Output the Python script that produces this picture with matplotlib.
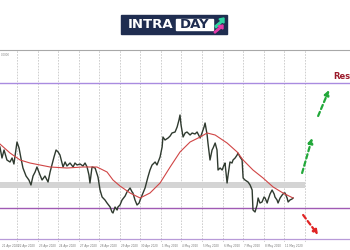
import matplotlib
matplotlib.use("Agg")
import matplotlib.pyplot as plt
from matplotlib.patches import Rectangle, Polygon

# price trace (x in days, grid lines at whole days)
price_day = [-0.83, -0.73, -0.63, -0.49, -0.34, -0.24, -0.15, 0.00, 0.10, 0.19,
             0.29, 0.44, 0.58, 0.68, 0.78, 0.88, 0.97, 1.12, 1.22, 1.36,
             1.51, 1.61, 1.70, 1.80, 1.90, 2.00, 2.09, 2.24, 2.34, 2.43,
             2.58, 2.73, 2.82, 2.92, 3.07, 3.21, 3.31, 3.41, 3.50, 3.55,
             3.65, 3.80, 3.94, 4.04, 4.14, 4.28, 4.38, 4.53, 4.62, 4.67,
             4.77, 4.87, 4.91, 5.01, 5.11, 5.26, 5.35, 5.50, 5.60, 5.64,
             5.74, 5.84, 5.94, 5.99, 6.13, 6.23, 6.33, 6.37, 6.47, 6.57,
             6.72, 6.81, 6.96, 7.06, 7.10, 7.20, 7.35, 7.45, 7.54, 7.69,
             7.79, 7.88, 7.93, 7.98, 8.08, 8.18, 8.27, 8.42, 8.52, 8.66,
             8.76, 8.91, 9.00, 9.10, 9.15, 9.25, 9.29, 9.39, 9.49, 9.54,
             9.64, 9.73, 9.78, 9.88, 9.98, 10.07, 10.12, 10.22, 10.27, 10.36,
             10.46, 10.51, 10.61, 10.71, 10.75, 10.85, 10.95, 11.00, 11.09, 11.24,
             11.34, 11.44, 11.48, 11.58, 11.68, 11.73, 11.82, 11.92, 12.02, 12.07,
             12.17, 12.21, 12.31, 12.41, 12.51, 12.55, 12.65, 12.70, 12.80, 12.90,
             12.99, 13.04, 13.14, 13.19, 13.28, 13.38, 13.43]
price_close = [1.1415, 1.1360, 1.1400, 1.1350, 1.1340, 1.1360, 1.1330, 1.1440, 1.1410, 1.1360,
               1.1310, 1.1270, 1.1250, 1.1225, 1.1270, 1.1290, 1.1315, 1.1275, 1.1250, 1.1270,
               1.1240, 1.1290, 1.1325, 1.1365, 1.1400, 1.1390, 1.1375, 1.1315, 1.1340, 1.1320,
               1.1335, 1.1315, 1.1335, 1.1325, 1.1330, 1.1320, 1.1335, 1.1315, 1.1275, 1.1235,
               1.1315, 1.1310, 1.1265, 1.1200, 1.1165, 1.1150, 1.1135, 1.1115, 1.1090, 1.1085,
               1.1115, 1.1100, 1.1115, 1.1125, 1.1150, 1.1170, 1.1190, 1.1210, 1.1190, 1.1185,
               1.1150, 1.1125, 1.1135, 1.1150, 1.1185, 1.1210, 1.1250, 1.1265, 1.1300, 1.1325,
               1.1340, 1.1325, 1.1365, 1.1415, 1.1465, 1.1450, 1.1460, 1.1470, 1.1485, 1.1490,
               1.1515, 1.1550, 1.1575, 1.1525, 1.1465, 1.1485, 1.1490, 1.1475, 1.1485, 1.1480,
               1.1490, 1.1460, 1.1485, 1.1515, 1.1535, 1.1475, 1.1435, 1.1350, 1.1400, 1.1410,
               1.1435, 1.1400, 1.1300, 1.1310, 1.1300, 1.1325, 1.1335, 1.1235, 1.1275, 1.1340,
               1.1335, 1.1350, 1.1360, 1.1375, 1.1385, 1.1365, 1.1350, 1.1260, 1.1250, 1.1240,
               1.1225, 1.1200, 1.1100, 1.1090, 1.1125, 1.1160, 1.1135, 1.1140, 1.1165, 1.1160,
               1.1135, 1.1150, 1.1180, 1.1200, 1.1180, 1.1165, 1.1150, 1.1135, 1.1160, 1.1175,
               1.1185, 1.1185, 1.1160, 1.1140, 1.1150, 1.1155, 1.1160]

# moving average
ma_day = [-0.83, -0.34, 0.15, 0.63, 1.12, 1.61, 2.43, 3.21, 3.89, 4.38,
          4.67, 5.01, 5.50, 5.99, 6.47, 6.96, 7.45, 7.93, 8.42, 8.91,
          9.25, 9.64, 10.22, 10.71, 11.00, 11.48, 11.97, 12.46, 12.94, 13.43]
ma_value = [1.1430, 1.1385, 1.1350, 1.1335, 1.1325, 1.1315, 1.1310, 1.1315, 1.1315, 1.1290,
            1.1250, 1.1220, 1.1185, 1.1160, 1.1185, 1.1235, 1.1315, 1.1390, 1.1440, 1.1465,
            1.1485, 1.1475, 1.1435, 1.1390, 1.1350, 1.1300, 1.1260, 1.1215, 1.1185, 1.1160]

# levels
resistance = 1.1735
support = 1.1110
lower_level = 1.0953
zone_low, zone_high = 1.1208, 1.1242
zone_end = 14.0

date_days = [-0.78, 0, 1, 2, 3, 4, 5, 6, 7, 8, 9, 10, 11, 12, 13]
date_labels = ["21 Apr 2020", "22 Apr 2020", "23 Apr 2020", "24 Apr 2020", "27 Apr 2020",
               "28 Apr 2020", "29 Apr 2020", "30 Apr 2020", "1 May 2020", "4 May 2020",
               "5 May 2020", "6 May 2020", "7 May 2020", "8 May 2020", "11 May 2020"]

# projected moves
up_arrows = [((13.87, 1.1285), (14.36, 1.1460)), ((14.65, 1.1570), (15.18, 1.1700))]
down_arrow = ((13.92, 1.1075), (14.65, 1.0975))

fig = plt.figure(figsize=(3.5, 2.5), dpi=100)
ax = fig.add_axes([0, 8 / 250, 1, 192 / 250])
ax.set_xlim(-0.827, 16.2)
ax.set_ylim(1.094, 1.190)
ax.set_xticks([])
ax.set_yticks([])
for side in ['left', 'right', 'bottom']:
    ax.spines[side].set_visible(False)
ax.spines['top'].set_color('#a8a8a8')
ax.spines['top'].set_linewidth(0.8)

for d in range(15):
    ax.axvline(d, color='#c8c8c8', lw=0.6, ls=(0, (2, 1.5)), zorder=1)

ax.fill_between([-0.827, zone_end], zone_low, zone_high, color='#d4d4d4', lw=0, zorder=1)
ax.axhline(resistance, color='#a98be0', lw=1.0, zorder=2)
ax.axhline(support, color='#a05ab4', lw=1.0, zorder=2)
ax.axhline(lower_level, color='#b89ad8', lw=0.9, zorder=2)

ax.plot(price_day, price_close, color='#2f3a2f', lw=1.0, zorder=3)
ax.plot(ma_day, ma_value, color='#d04545', lw=0.8, zorder=4)

for start, end in up_arrows:
    ax.annotate('', xy=end, xytext=start,
                arrowprops=dict(arrowstyle='-|>', color='#22a83a', lw=1.6,
                                ls=(0, (2, 1.4)), mutation_scale=7, shrinkA=0, shrinkB=0))
ax.annotate('', xy=down_arrow[1], xytext=down_arrow[0],
            arrowprops=dict(arrowstyle='-|>', color='#e02424', lw=1.6,
                            ls=(0, (2, 1.4)), mutation_scale=7, shrinkA=0, shrinkB=0))

ax.text(15.38, resistance + 0.0012, "Res", color='#9b1b2b', fontsize=6,
        fontweight='bold', va='bottom', ha='left')
ax.text(-0.78, 1.1885, "0.0000", color='#888888', fontsize=2, va='top', ha='left')

for d, lab in zip(date_days, date_labels):
    ax.text(d + 0.05, -0.012, lab, transform=ax.get_xaxis_transform(),
            fontsize=2, color='#777777', va='top', ha='left', clip_on=False)

# logo
navy = '#1f2d50'
fig.patches.append(Rectangle((121 / 350, 216 / 250), 106 / 350, 19 / 250,
                             transform=fig.transFigure, color=navy, zorder=5))
fig.patches.append(Rectangle((176 / 350, 220 / 250), 37 / 350, 11 / 250,
                             transform=fig.transFigure, color='white', zorder=6))
fig.text(151 / 350, 225.5 / 250, "INTRA", color='white', fontsize=9.5, fontweight='bold',
         ha='center', va='center', zorder=7)
fig.text(194.5 / 350, 225.5 / 250, "DAY", color=navy, fontsize=9.5, fontweight='bold',
         ha='center', va='center', zorder=7)
green_icon = [(215, 26), (221, 21), (219, 19), (224, 18), (224, 23), (222, 22), (216, 28)]
pink_icon = [(214, 32), (220, 27), (218, 26), (223, 25), (223, 29), (221, 28), (215, 33)]
for pts, col in [(green_icon, '#2fd3a0'), (pink_icon, '#e43aa8')]:
    fig.patches.append(Polygon([(x / 350, 1 - y / 250) for x, y in pts], closed=True,
                               transform=fig.transFigure, color=col, zorder=7))

fig.savefig('out.png', dpi=100)
